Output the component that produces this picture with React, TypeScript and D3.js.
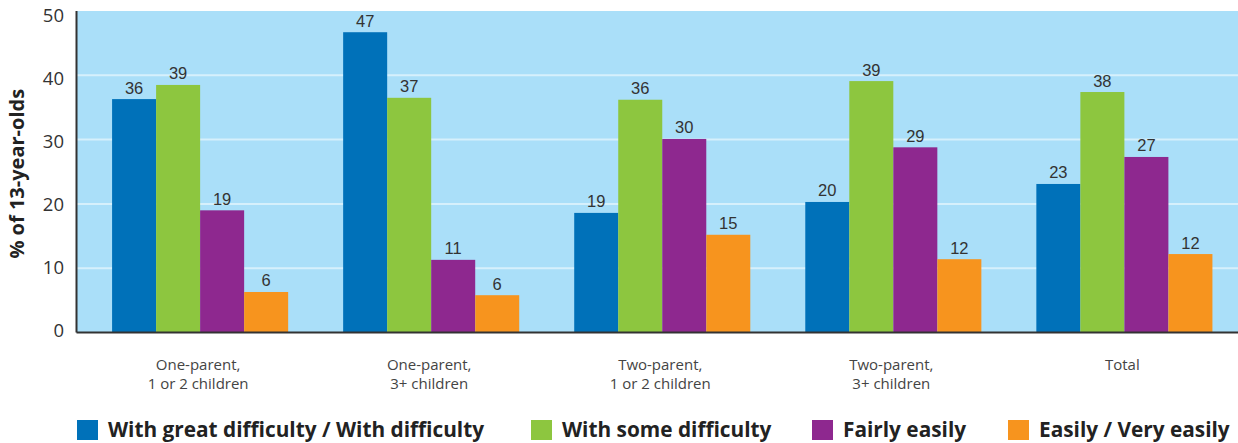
import * as d3 from "d3";

const categories = [
  ["One-parent,", "1 or 2 children"],
  ["One-parent,", "3+ children"],
  ["Two-parent,", "1 or 2 children"],
  ["Two-parent,", "3+ children"],
  ["Total"],
];

const seriesNames = [
  "With great difficulty / With difficulty",
  "With some difficulty",
  "Fairly easily",
  "Easily / Very easily",
];

const colors = ["#0071b9", "#8dc63f", "#8e288f", "#f7941e"];

// bar heights as drawn, and the rounded labels printed above them
const greatDifficulty = [36.3, 46.7, 18.6, 20.3, 23.1];
const someDifficulty = [38.5, 36.5, 36.2, 39.1, 37.4];
const fairlyEasily = [19.0, 11.3, 30.1, 28.8, 27.3];
const veryEasily = [6.3, 5.8, 15.2, 11.4, 12.2];

const greatDifficultyLabels = [36, 47, 19, 20, 23];
const someDifficultyLabels = [39, 37, 36, 39, 38];
const fairlyEasilyLabels = [19, 11, 30, 29, 27];
const veryEasilyLabels = [6, 6, 15, 12, 12];

const yTicks = [0, 10, 20, 30, 40, 50];

const width = 1238;
const height = 443;
const left = 76.5;
const top = 11;
const bottom = 332.5;

export default function App() {
  const values = [greatDifficulty, someDifficulty, fairlyEasily, veryEasily];
  const labels = [greatDifficultyLabels, someDifficultyLabels, fairlyEasilyLabels, veryEasilyLabels];

  const x0 = d3
    .scaleBand<number>()
    .domain(d3.range(categories.length))
    .range([left, 1248])
    .paddingInner(0.238)
    .paddingOuter(0.154);
  const x1 = d3
    .scaleBand<number>()
    .domain(d3.range(seriesNames.length))
    .range([0, x0.bandwidth()]);
  const y = d3.scaleLinear().domain([0, 50]).range([bottom, top]);
  // tick labels sit on a slightly tighter spacing than the gridlines
  const yLabel = d3.scaleLinear().domain([0, 50]).range([337, 21.5]);

  const legendX = [77, 531, 812, 1008];

  return (
    <svg
      width={width}
      height={height}
      style={{ position: "absolute", left: 0, top: 0, background: "#fff" }}
    >
      <rect x={left} y={top} width={width - left} height={bottom - top} fill="#aadff9" />
      {yTicks.filter((t) => t > 0 && t < 50).map((t) => (
        <line key={t} x1={left} x2={width} y1={y(t)} y2={y(t)} stroke="#d6f0fc" strokeWidth={2} />
      ))}
      {values.map((series, s) =>
        series.map((v, i) => (
          <g key={`${s}-${i}`}>
            <rect
              x={(x0(i) ?? 0) + (x1(s) ?? 0)}
              y={y(v)}
              width={x1.bandwidth()}
              height={y(0) - y(v)}
              fill={colors[s]}
            />
            <text
              x={(x0(i) ?? 0) + (x1(s) ?? 0) + x1.bandwidth() / 2}
              y={y(v) - 5.5}
              textAnchor="middle"
              fontFamily="Liberation Sans, Arial, sans-serif"
              fontSize={16.5}
              fill="#333"
            >
              {labels[s][i]}
            </text>
          </g>
        ))
      )}
      <line x1={left} x2={left} y1={top} y2={bottom} stroke="#333" strokeWidth={2} />
      <line x1={left} x2={width} y1={bottom} y2={bottom} stroke="#333" strokeWidth={2} />
      {yTicks.map((t) => (
        <text
          key={t}
          x={64}
          y={yLabel(t)}
          textAnchor="end"
          fontFamily="Open Sans, sans-serif"
          fontSize={18.5}
          fill="#333"
        >
          {t}
        </text>
      ))}
      <text
        transform={`translate(24, ${(top + bottom) / 2 + 2}) rotate(-90)`}
        textAnchor="middle"
        fontFamily="Open Sans, sans-serif"
        fontWeight="bold"
        fontSize={20}
        fill="#222"
      >
        % of 13-year-olds
      </text>
      {categories.map((lines, i) => (
        <text
          key={i}
          textAnchor="middle"
          fontFamily="Open Sans, sans-serif"
          fontSize={15}
          fill="#444"
        >
          {lines.map((line, j) => (
            <tspan key={j} x={(x0(i) ?? 0) + x0.bandwidth() / 2 - 2} y={370 + j * 18.5}>
              {line}
            </tspan>
          ))}
        </text>
      ))}
      {seriesNames.map((name, s) => (
        <g key={name}>
          <rect x={legendX[s]} y={420} width={21} height={20} fill={colors[s]} />
          <text
            x={legendX[s] + 31}
            y={437}
            fontFamily="Open Sans, sans-serif"
            fontWeight="bold"
            fontSize={20.8}
            fill="#222"
          >
            {name}
          </text>
        </g>
      ))}
    </svg>
  );
}
